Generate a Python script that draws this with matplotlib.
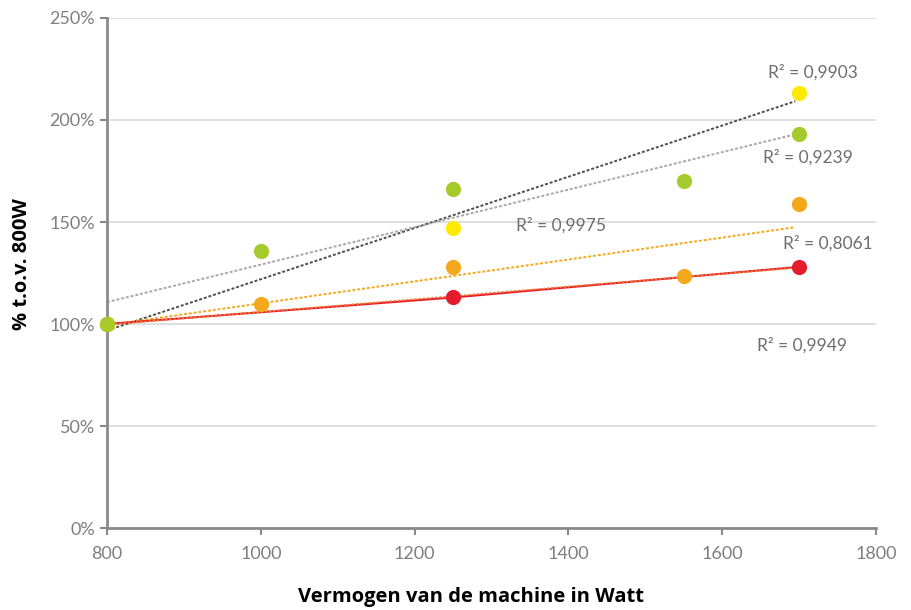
import numpy as np
import matplotlib
matplotlib.use("Agg")
import matplotlib.pyplot as plt
from matplotlib.ticker import FuncFormatter

# Data (W, % relative to 800W)
green_x = [800, 1000, 1250, 1550, 1700]
green_y = [100, 136, 166, 170, 193]
yellow_x = [800, 1250, 1700]
yellow_y = [100, 147, 213]
orange_x = [800, 1000, 1250, 1550, 1700]
orange_y = [100, 110, 128, 123.5, 159]
red_x = [800, 1250, 1700]
red_y = [100, 113, 128]

r2_labels = ["R² = 0,9903", "R² = 0,9239", "R² = 0,9975", "R² = 0,8061", "R² = 0,9949"]
r2_pos = [(1660, 223.5), (1653, 181.5), (1332, 148.5), (1679, 139.5), (1645, 89.5)]

xticks = [800, 1000, 1200, 1400, 1600, 1800]
yticks = [0, 50, 100, 150, 200, 250]

c_green = "#a6c92c"
c_yellow = "#ffea00"
c_orange = "#f6a81c"
c_red = "#e41c2e"
tick_gray = "#7f7f7f"

fig = plt.figure(figsize=(9.12, 6.10), dpi=100)
ax = fig.add_axes([0.1173, 0.1344, 0.8432, 0.8361])

xs = np.array([800, 1695])

def trend(x, y):
    p = np.polyfit(x, y, 1)
    return np.polyval(p, xs)

# trendlines
ax.plot(xs, trend(yellow_x, yellow_y), color="#4d4d4d", lw=1.4, ls=(0, (1.5, 1)), zorder=2)
ax.plot(xs, trend(green_x, green_y), color="#a8a8a8", lw=1.4, ls=(0, (1.5, 1)), zorder=2)
ax.plot(xs, trend(orange_x, orange_y), color=c_orange, lw=1.4, ls=(0, (1.5, 1)), zorder=2)
ax.plot(red_x, red_y, color=c_red, lw=1.5, zorder=2)
ax.plot(xs, trend(red_x, red_y), color="#f07a30", lw=1.2, ls=(0, (1.5, 1)), zorder=2)

ms = 120
ax.scatter(red_x, red_y, s=ms, color=c_red, zorder=3, linewidths=0, clip_on=False)
ax.scatter(orange_x, orange_y, s=ms, color=c_orange, zorder=4, linewidths=0, clip_on=False)
ax.scatter(yellow_x, yellow_y, s=ms, color=c_yellow, zorder=5, linewidths=0, clip_on=False)
ax.scatter(green_x, green_y, s=ms, color=c_green, zorder=6, linewidths=0, clip_on=False)

for t, (x, y) in zip(r2_labels, r2_pos):
    ax.text(x, y, t, ha="left", va="center", fontsize=12.5, color="#6e6e6e",
            family="Lato", zorder=7)

ax.set_xlim(800, 1800)
ax.set_ylim(0, 250)
ax.set_xticks(xticks)
ax.set_yticks(yticks)
ax.yaxis.set_major_formatter(FuncFormatter(lambda v, p: f"{int(v)}%"))
ax.grid(axis="y", color="#d9d9d9", lw=1.2, zorder=0)
ax.set_axisbelow(True)

for s in ["top", "right"]:
    ax.spines[s].set_visible(False)
for s in ["left", "bottom"]:
    ax.spines[s].set_color("#8a8a8a")
    ax.spines[s].set_linewidth(2)
ax.tick_params(axis="both", colors="#8a8a8a", labelcolor=tick_gray, length=5, width=1.5,
               labelsize=13)
ax.tick_params(axis="x", pad=8)
for lab in ax.get_xticklabels() + ax.get_yticklabels():
    lab.set_family("Lato")

fig.text(471 / 912, 1 - 597 / 610, "Vermogen van de machine in Watt", fontsize=14.5,
         fontweight="bold", family=["Open Sans", "DejaVu Sans"], ha="center", va="center")
fig.text(22 / 912, 1 - 264 / 610, "% t.o.v. 800W", fontsize=14.5, rotation=90,
         fontweight="bold", family=["Open Sans", "DejaVu Sans"], ha="center", va="center")

fig.savefig("out.png", dpi=100)
